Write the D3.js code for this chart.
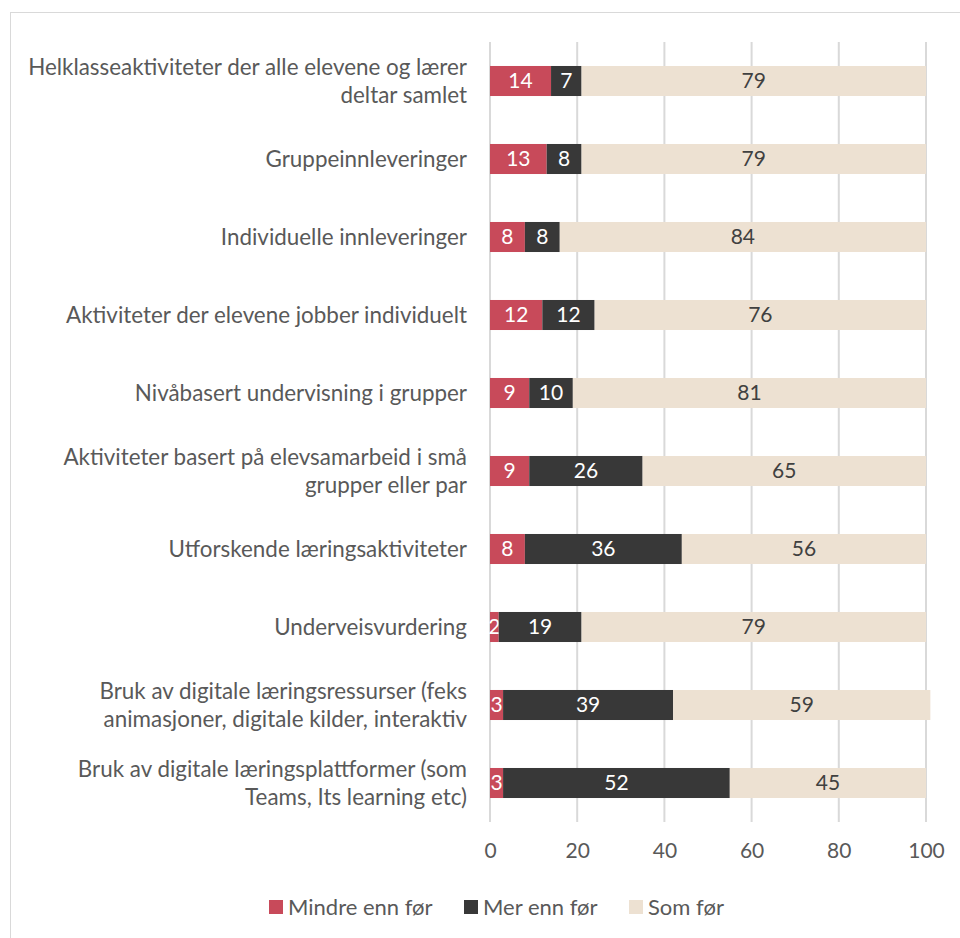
<!DOCTYPE html>
<html>
<head>
<meta charset="utf-8">
<script src="https://cdn.jsdelivr.net/npm/d3@7"></script>
<style>
  html, body { margin: 0; padding: 0; background: #fff; }
  svg { display: block; font-family: Lato, "Open Sans", sans-serif; }
</style>
</head>
<body>
<svg id="chart" width="960" height="938"></svg>
<script>
// Category labels (each entry = wrapped lines), top to bottom
const categories = [
  ["Helklasseaktiviteter der alle elevene og lærer", "deltar samlet"],
  ["Gruppeinnleveringer"],
  ["Individuelle innleveringer"],
  ["Aktiviteter der elevene jobber individuelt"],
  ["Nivåbasert undervisning i grupper"],
  ["Aktiviteter basert på elevsamarbeid i små", "grupper eller par"],
  ["Utforskende læringsaktiviteter"],
  ["Underveisvurdering"],
  ["Bruk av digitale læringsressurser (feks", "animasjoner, digitale kilder, interaktiv"],
  ["Bruk av digitale læringsplattformer (som", "Teams, Its learning etc)"]
];
const mindre = [14, 13, 8, 12, 9, 9, 8, 2, 3, 3];
const mer    = [7, 8, 8, 12, 10, 26, 36, 19, 39, 52];
const som    = [79, 79, 84, 76, 81, 65, 56, 79, 59, 45];
const seriesNames = ["Mindre enn før", "Mer enn før", "Som før"];
const xTicks = [0, 20, 40, 60, 80, 100];

const colors = ["#C84A5A", "#383838", "#EDE1D2"];
const labelColors = ["#FFFFFF", "#FFFFFF", "#404040"];

const svg = d3.select("#chart");

// outer chart frame
svg.append("rect")
  .attr("x", 10.5).attr("y", 12.5)
  .attr("width", 1000).attr("height", 1000)
  .attr("fill", "none").attr("stroke", "#D9D9D9").attr("stroke-width", 1);

const x = d3.scaleLinear().domain([0, 100]).range([490, 926]);
const y = d3.scaleBand()
  .domain(d3.range(categories.length))
  .range([42, 822])
  .paddingInner(0.615).paddingOuter(0.3075);

// vertical gridlines
svg.append("g").selectAll("line").data(xTicks).join("line")
  .attr("x1", d => x(d)).attr("x2", d => x(d))
  .attr("y1", 42).attr("y2", 822)
  .attr("stroke", "#D9D9D9").attr("stroke-width", 2);

// stacked data
const rows = categories.map((c, i) => ({ i, values: [mindre[i], mer[i], som[i]] }));
const stack = d3.stack().keys([0, 1, 2]).value((d, k) => d.values[k]);
const layers = stack(rows);

const g = svg.append("g");
layers.forEach((layer, k) => {
  const lg = g.append("g");
  lg.selectAll("rect").data(layer).join("rect")
    .attr("x", d => x(d[0]))
    .attr("y", (d, i) => y(i))
    .attr("width", d => x(d[1]) - x(d[0]))
    .attr("height", y.bandwidth())
    .attr("fill", colors[k]);
  lg.selectAll("text").data(layer).join("text")
    .attr("x", d => (x(d[0]) + x(d[1])) / 2)
    .attr("y", (d, i) => y(i) + y.bandwidth() / 2)
    .attr("dy", "0.35em")
    .attr("text-anchor", "middle")
    .attr("font-size", 21)
    .attr("fill", labelColors[k])
    .text(d => d[1] - d[0]);
});

// category labels
const lineH = 28;
const cat = svg.append("g");
categories.forEach((lines, i) => {
  const cy = y(i) + y.bandwidth() / 2;
  const t = cat.append("text")
    .attr("text-anchor", "end")
    .attr("font-size", 22.4)
    .attr("fill", "#595959");
  lines.forEach((ln, j) => {
    t.append("tspan")
      .attr("x", 467)
      .attr("y", cy + (j - (lines.length - 1) / 2) * lineH)
      .attr("dy", "0.35em")
      .text(ln);
  });
});

// x axis tick labels
const xAxis = d3.axisBottom(x).tickValues(xTicks).tickSize(0).tickPadding(0);
const ax = svg.append("g").attr("transform", "translate(0,843)").call(xAxis);
ax.select(".domain").remove();
ax.selectAll("text").attr("font-size", 21).attr("fill", "#595959")
  .attr("font-family", "Lato, 'Open Sans', sans-serif");

// legend
const legendX = [269, 464, 629];
const lg = svg.append("g");
seriesNames.forEach((name, k) => {
  lg.append("rect")
    .attr("x", legendX[k]).attr("y", 900)
    .attr("width", 14).attr("height", 14)
    .attr("fill", colors[k]);
  lg.append("text")
    .attr("x", legendX[k] + 19).attr("y", 907)
    .attr("dy", "0.35em")
    .attr("font-size", 22)
    .attr("fill", "#595959")
    .text(name);
});
</script>
</body>
</html>
